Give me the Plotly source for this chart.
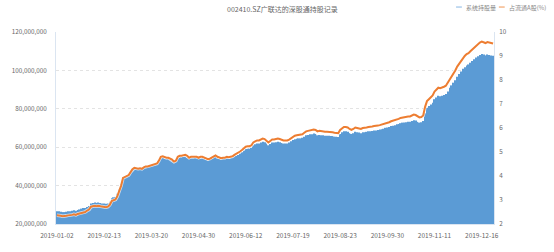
import pandas as pd
import plotly.graph_objects as go

# ---------------- data ----------------
title_text = "002410.SZ广联达的深股通持股记录"
bar_name = "系统持股量"
line_name = "占流通A股(%)"

closed_days = [
    "2019-01-01", "2019-02-04", "2019-02-05", "2019-02-06", "2019-02-07", "2019-02-08",
    "2019-04-05", "2019-04-18", "2019-04-19", "2019-04-22",
    "2019-05-01", "2019-05-02", "2019-05-03", "2019-05-13",
    "2019-06-06", "2019-06-07", "2019-06-28", "2019-07-01",
    "2019-09-13", "2019-10-01", "2019-10-02", "2019-10-03", "2019-10-04", "2019-10-07",
    "2019-12-24", "2019-12-25", "2019-12-26", "2019-12-30", "2019-12-31",
]
all_days = pd.bdate_range("2019-01-01", "2019-12-31")
dates = [d.strftime("%Y-%m-%d") for d in all_days if d.strftime("%Y-%m-%d") not in closed_days]

# 占流通A股 (%)
pct = [
    2.36, 2.36, 2.34, 2.32, 2.32, 2.34, 2.36, 2.36, 2.38, 2.40,
    2.38, 2.42, 2.44, 2.48, 2.50, 2.50, 2.56, 2.60, 2.72, 2.74,
    2.76, 2.74, 2.76, 2.74, 2.72, 2.72, 2.70, 2.72, 2.80, 2.96,
    3.00, 3.02, 3.16, 3.36, 3.60, 3.92, 3.96, 3.98, 4.04, 4.16,
    4.28, 4.34, 4.32, 4.30, 4.32, 4.30, 4.36, 4.40, 4.40, 4.42,
    4.44, 4.48, 4.50, 4.52, 4.64, 4.80, 4.82, 4.78, 4.76, 4.76,
    4.72, 4.68, 4.60, 4.64, 4.80, 4.84, 4.84, 4.86, 4.88, 4.84,
    4.76, 4.80, 4.80, 4.82, 4.80, 4.76, 4.80, 4.80, 4.76, 4.72,
    4.70, 4.72, 4.76, 4.82, 4.86, 4.80, 4.76, 4.74, 4.76, 4.76,
    4.80, 4.78, 4.80, 4.82, 4.88, 4.92, 4.96, 5.02, 5.08, 5.16,
    5.22, 5.24, 5.24, 5.28, 5.40, 5.44, 5.48, 5.48, 5.52, 5.56,
    5.54, 5.48, 5.40, 5.46, 5.52, 5.52, 5.54, 5.56, 5.54, 5.50,
    5.48, 5.48, 5.48, 5.52, 5.58, 5.64, 5.68, 5.70, 5.72, 5.72,
    5.74, 5.80, 5.86, 5.88, 5.90, 5.90, 5.94, 5.92, 5.86, 5.88,
    5.86, 5.86, 5.84, 5.84, 5.84, 5.82, 5.82, 5.80, 5.80, 5.78,
    5.92, 6.00, 6.04, 6.04, 6.02, 5.96, 5.92, 5.96, 6.02, 6.00,
    5.98, 5.96, 6.00, 6.00, 6.02, 6.04, 6.04, 6.06, 6.08, 6.08,
    6.10, 6.12, 6.14, 6.16, 6.20, 6.22, 6.24, 6.28, 6.30, 6.32,
    6.36, 6.38, 6.42, 6.44, 6.44, 6.46, 6.48, 6.48, 6.52, 6.56,
    6.54, 6.48, 6.44, 6.46, 6.52, 6.88, 7.12, 7.20, 7.28, 7.36,
    7.52, 7.60, 7.68, 7.66, 7.68, 7.72, 7.76, 7.88, 8.04, 8.16,
    8.28, 8.40, 8.56, 8.68, 8.80, 8.92, 9.00, 9.08, 9.12, 9.20,
    9.28, 9.36, 9.44, 9.50, 9.56, 9.60, 9.58, 9.54, 9.58, 9.56, 9.54, 9.52,
]

# 系统持股量 (millions of shares)
shares_m = [
    26.7, 26.7, 26.4, 26.2, 26.2, 26.4, 26.7, 26.7, 26.9, 27.1,
    26.9, 27.3, 27.6, 28.0, 28.3, 28.3, 28.9, 29.4, 30.7, 31.0,
    31.2, 31.0, 31.2, 31.0, 30.7, 30.7, 30.5, 30.7, 31.6, 33.4,
    33.9, 34.1, 35.7, 38.0, 40.7, 44.3, 44.7, 45.0, 45.7, 47.0,
    48.4, 49.0, 48.8, 48.6, 48.8, 48.6, 49.3, 49.7, 49.7, 49.9,
    50.2, 50.6, 50.9, 51.1, 52.4, 54.2, 54.5, 54.0, 53.8, 53.8,
    53.3, 52.9, 52.0, 52.4, 54.2, 54.7, 54.7, 54.9, 55.1, 54.7,
    53.8, 54.2, 54.2, 54.5, 54.2, 53.8, 54.2, 54.2, 53.8, 53.3,
    53.1, 53.3, 53.8, 54.5, 54.9, 54.2, 53.8, 53.6, 53.8, 53.8,
    54.2, 54.0, 54.2, 54.5, 55.1, 55.6, 56.0, 56.7, 57.4, 58.3,
    59.0, 59.2, 59.2, 59.7, 61.0, 61.5, 61.9, 61.9, 62.4, 62.8,
    62.6, 61.9, 61.0, 61.7, 62.4, 62.4, 62.6, 62.8, 62.6, 62.2,
    61.9, 61.9, 61.9, 62.4, 63.1, 63.7, 64.2, 64.4, 64.6, 64.6,
    64.9, 65.5, 66.2, 66.4, 66.7, 66.7, 67.1, 66.9, 66.2, 66.4,
    66.2, 66.2, 66.0, 66.0, 66.0, 65.8, 65.8, 65.5, 65.5, 65.3,
    66.9, 67.8, 68.3, 68.3, 68.0, 67.3, 66.9, 67.3, 68.0, 67.8,
    67.6, 67.3, 67.8, 67.8, 68.0, 68.3, 68.3, 68.5, 68.7, 68.7,
    68.9, 69.2, 69.4, 69.6, 70.1, 70.3, 70.5, 71.0, 71.2, 71.4,
    71.9, 72.1, 72.5, 72.8, 72.8, 73.0, 73.2, 73.2, 73.7, 74.1,
    73.9, 73.2, 72.8, 73.0, 73.7, 77.7, 80.5, 81.4, 82.3, 83.2,
    85.0, 85.9, 86.8, 86.6, 86.8, 87.2, 87.7, 89.0, 90.9, 92.2,
    93.6, 94.9, 96.7, 98.1, 99.4, 100.8, 101.7, 102.6, 103.1, 104.0,
    104.9, 105.8, 106.7, 107.4, 108.0, 108.5, 108.3, 107.8, 108.3, 108.0, 107.8, 107.6,
]

left_ticks = [20000000, 40000000, 60000000, 80000000, 100000000, 120000000]
right_ticks = [2, 3, 4, 5, 6, 7, 8, 9, 10]

# ---------------- figure ----------------
n = min(len(dates), len(pct), len(shares_m))
x = dates[:n]
shares = [v * 1e6 for v in shares_m[:n]]

BLUE = "#5B9BD5"
ORANGE = "#ED7D31"
FONT = "Noto Sans CJK SC, Noto Sans, sans-serif"

fig = go.Figure()
fig.add_trace(go.Bar(x=x, y=shares, name=bar_name, marker=dict(color=BLUE, line=dict(width=0)),
                     showlegend=False))
fig.add_trace(go.Scatter(x=x, y=pct[:n], name=line_name, yaxis="y2", mode="lines",
                         line=dict(color="rgba(255,255,255,0.7)", width=3.5), showlegend=False,
                         hoverinfo="skip"))
fig.add_trace(go.Scatter(x=x, y=pct[:n], name=line_name, yaxis="y2", mode="lines",
                         line=dict(color=ORANGE, width=2), showlegend=False))

fig.update_layout(
    width=554, height=252,
    margin=dict(l=44, r=60, t=32, b=20),
    paper_bgcolor="white", plot_bgcolor="white",
    font=dict(family=FONT, size=6.5, color="#666"),
    bargap=0.35,
    xaxis=dict(type="category", tickmode="array", tickvals=x[::25], ticktext=x[::25],
               showgrid=False, showline=True, linecolor="#dbe5f1", linewidth=1,
               ticks="", ticklabelstandoff=5, tickangle=0,
               tickfont=dict(size=6.5, color="#666"), range=[-0.5, n - 0.5]),
    yaxis=dict(range=[20000000, 120000000], tickvals=left_ticks, tickformat=",d",
               showgrid=True, gridcolor="#e3e3e3", griddash="dot", gridwidth=1,
               showline=True, linecolor="#dbe5f1", linewidth=1, zeroline=False,
               ticks="", ticklabelstandoff=7, tickfont=dict(size=6.3, color="#666")),
    yaxis2=dict(range=[2, 10], tickvals=right_ticks, overlaying="y", side="right",
                showgrid=False, showline=True, linecolor="#dbe5f1", linewidth=1,
                zeroline=False, ticks="", ticklabelstandoff=3,
                tickfont=dict(size=6.3, color="#666")),
)

# title as annotation
fig.add_annotation(text=title_text, xref="paper", yref="paper",
                   x=(277 - 44) / 450, y=1 + (32 - 8) / 200,
                   xanchor="center", yanchor="middle", showarrow=False,
                   font=dict(size=7, color="#666666", family=FONT))

# manual legend (line icons) at top right
legend_items = [(bar_name, "#9cc3e8", 455), (line_name, "#f2a66e", 499)]
for name, col, px in legend_items:
    fig.add_shape(type="line", xref="paper", yref="paper",
                  x0=(px - 44) / 450, x1=(px + 6 - 44) / 450,
                  y0=1 + (32 - 6) / 200, y1=1 + (32 - 6) / 200,
                  line=dict(color=col, width=1.2))
    fig.add_annotation(text=name, xref="paper", yref="paper",
                       x=(px + 8 - 44) / 450, y=1 + (32 - 6) / 200,
                       xanchor="left", yanchor="middle", showarrow=False,
                       font=dict(size=6, color="#888", family=FONT))

fig.write_html("out.html")
